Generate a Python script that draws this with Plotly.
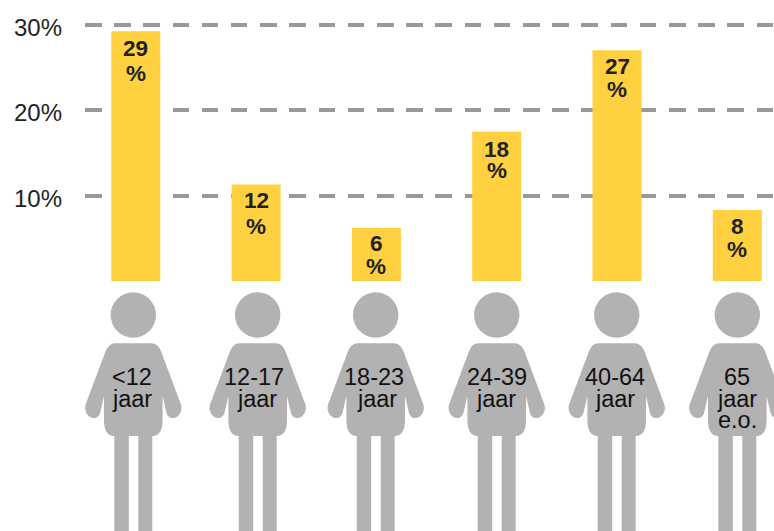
import plotly.graph_objects as go

# --- data ---
positions = [0, 1, 2, 3, 4, 5]
bar_values = [29.2, 11.3, 6.2, 17.5, 27.0, 8.3]
value_labels = ["29", "12", "6", "18", "27", "8"]
age_lines = [["<12", "jaar"], ["12-17", "jaar"], ["18-23", "jaar"],
             ["24-39", "jaar"], ["40-64", "jaar"], ["65", "jaar", "e.o."]]
tick_values = [10, 20, 30]
tick_labels = ["10%", "20%", "30%"]

W, H = 774, 531
BASE_PX = 281
PX_PER_UNIT = 8.55
X0 = 135.8
STEP = 120.3
LEFT = 85
YELLOW = "#FFD040"
GRAY = "#B2B2B2"
INK = "#222222"

fig = go.Figure()
fig.add_bar(x=positions, y=bar_values, width=49 / STEP,
            marker=dict(color=YELLOW, line=dict(width=0)), hoverinfo="skip")


def body_path(c):
    """Person outline; c = horizontal offset of the figure, y in image px."""
    def p(x, y):
        return f"{c + x:.1f},{BASE_PX - y:.1f}"
    parts = [
        "M" + p(-18, 343.3), "L" + p(18, 343.3),
        "Q" + p(25, 343.3) + " " + p(28, 352),
        "L" + p(47.5, 404),
        "C" + p(50, 411) + " " + p(45, 418) + " " + p(40, 418),
        "C" + p(36, 418) + " " + p(34, 416) + " " + p(33, 412),
        "L" + p(29.3, 396), "L" + p(29.3, 420),
        "Q" + p(29.3, 436) + " " + p(19, 436),
        "L" + p(19, 540), "L" + p(5, 540), "L" + p(5, 436),
        "L" + p(-4.5, 436), "L" + p(-4.5, 540), "L" + p(-19, 540), "L" + p(-19, 436),
        "Q" + p(-29.3, 436) + " " + p(-29.3, 420),
        "L" + p(-29.3, 396), "L" + p(-33, 412),
        "C" + p(-34, 416) + " " + p(-36, 418) + " " + p(-40, 418),
        "C" + p(-45, 418) + " " + p(-50, 411) + " " + p(-47.5, 404),
        "L" + p(-28, 352),
        "Q" + p(-25, 343.3) + " " + p(-18, 343.3), "Z",
    ]
    return " ".join(parts)


figure_shift = [-2.5, 1.6, -0.7, 0, -0.3, 0]
line_shift = [[-3.5, -3.6], [-2, 1.2], [-2.7, 0.3], [0, -0.7], [-2.3, -2], [0, 0, 0]]
number_shift = [-4, -3, -2, -5, -3, -3]
percent_shift = [-29, -29, -25, -26, -26, -26]
LINE_PX = [377, 398.5, 419.5]

shapes = []
annotations = []
for i, pos in enumerate(positions):
    c = figure_shift[i]
    common = dict(xref="x", yref="y", xsizemode="pixel", ysizemode="pixel",
                  xanchor=pos, yanchor=0, fillcolor=GRAY, line=dict(width=0), layer="above")
    shapes.append(dict(type="circle", x0=c - 22.7, x1=c + 22.7,
                       y0=BASE_PX - 315 - 22.7, y1=BASE_PX - 315 + 22.7, **common))
    shapes.append(dict(type="path", path=body_path(c), **common))
    # bar value labels
    annotations.append(dict(x=pos, y=bar_values[i], xref="x", yref="y", text=f"<b>{value_labels[i]}</b>",
                            showarrow=False, yanchor="top", yshift=number_shift[i], xanchor="center",
                            font=dict(family="Liberation Sans", size=22.5, color=INK),
                            borderpad=0))
    annotations.append(dict(x=pos, y=bar_values[i], xref="x", yref="y", text="<b>%</b>",
                            showarrow=False, yanchor="top", yshift=percent_shift[i], xanchor="center",
                            font=dict(family="Liberation Sans", size=22.5, color=INK),
                            borderpad=0))
    for j, line in enumerate(age_lines[i]):
        annotations.append(dict(x=pos, xref="x", yref="paper", y=1 - LINE_PX[j] / H,
                                xshift=line_shift[i][j],
                                text=line.replace("<", "&lt;"), showarrow=False,
                                yanchor="middle", xanchor="center",
                                font=dict(family="Liberation Sans", size=23.5, color="#111111")))

fig.update_layout(
    width=W, height=H, autosize=False,
    margin=dict(l=LEFT, r=0, t=0, b=0, pad=0),
    paper_bgcolor="white", plot_bgcolor="white",
    showlegend=False, shapes=shapes, annotations=annotations,
    xaxis=dict(type="linear", range=[(LEFT - X0) / STEP, (W - X0) / STEP],
               visible=False, showgrid=False, zeroline=False, fixedrange=True),
    yaxis=dict(range=[(BASE_PX - H) / PX_PER_UNIT, BASE_PX / PX_PER_UNIT],
               tickmode="array", tickvals=tick_values, ticktext=tick_labels,
               showgrid=True, gridcolor="#999999", gridwidth=3.5,
               griddash="16.5px,12.7px", zeroline=False, showline=False,
               ticks="", ticklabelstandoff=22, ticklabelshift=3,
               tickfont=dict(family="Liberation Sans", size=24, color=INK),
               fixedrange=True),
)

fig.write_html("out.html", config=dict(displayModeBar=False),
               post_script="document.body.style.margin='0';")
